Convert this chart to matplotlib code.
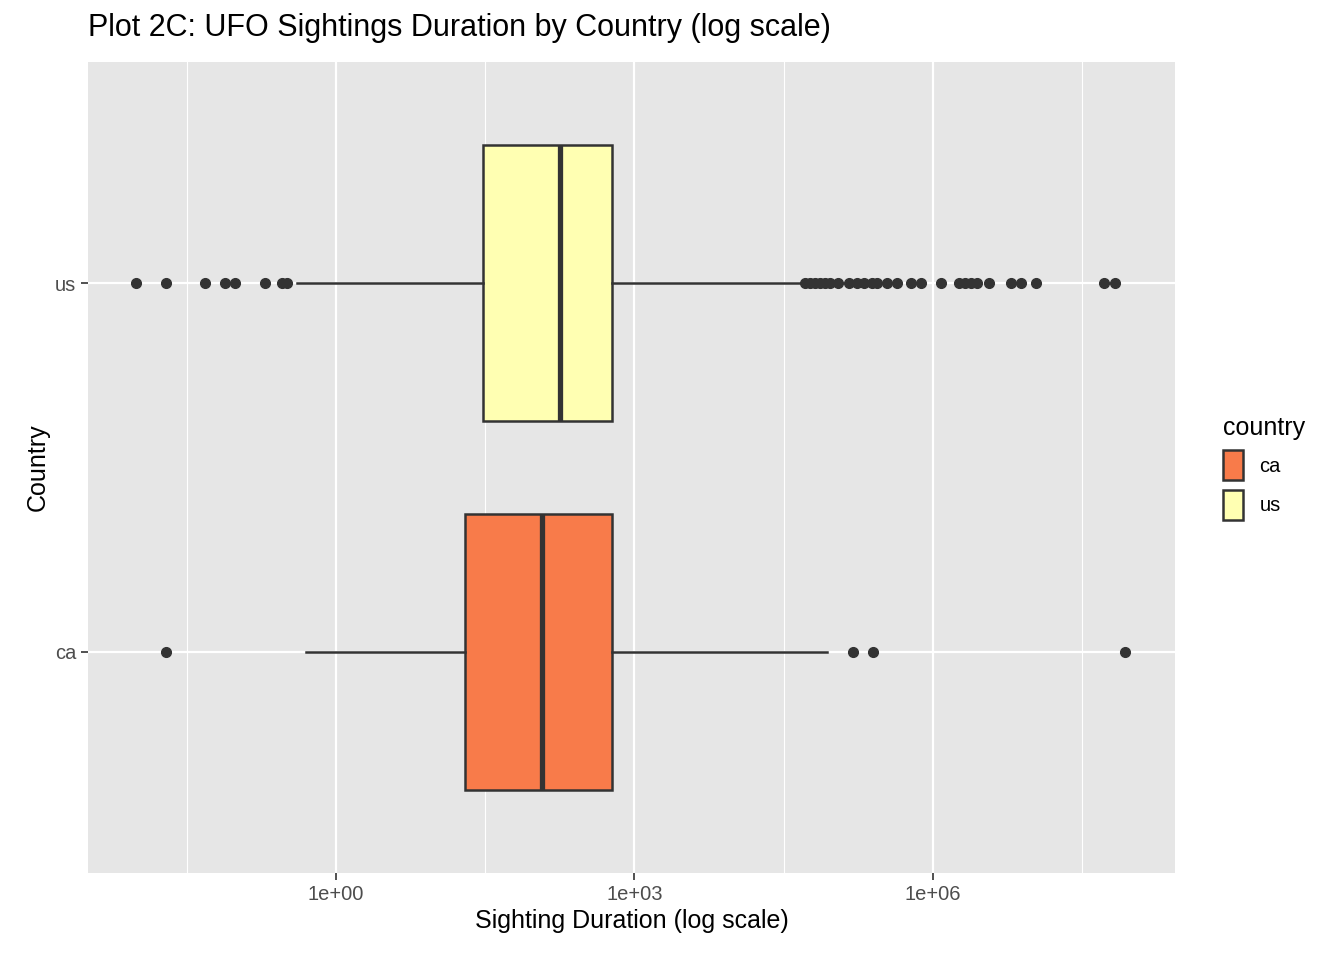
import matplotlib.pyplot as plt
import matplotlib.patches as mpatches
import numpy as np

plt.rcParams['font.family'] = ['Liberation Sans', 'DejaVu Sans']

countries = ['ca', 'us']
colors = ['#F87B4A', '#FFFFB2']
# log10 values
whislo = [-0.30, -0.39]
q1 = [1.30, 1.48]
med = [2.07, 2.25]
q3 = [2.77, 2.77]
whishi = [4.93, 4.69]
fliers = [
    [-1.71, 5.20, 5.40, 7.93],
    [-2.01, -1.71, -1.31, -1.11, -1.01, -0.71, -0.54, -0.49,
     4.71, 4.76, 4.81, 4.86, 4.91, 4.96, 5.04, 5.16, 5.24, 5.31, 5.39, 5.44,
     5.54, 5.64, 5.78, 5.88, 6.08, 6.26, 6.32, 6.38, 6.44, 6.56, 6.78, 6.88,
     7.03, 7.72, 7.83],
]

fig = plt.figure(figsize=(13.44, 9.6), dpi=100)
ax = fig.add_axes([88/1344, 1-873/960, (1175-88)/1344, (873-62)/960])
ax.set_facecolor('#E6E6E6')

stats = []
for i in range(2):
    stats.append(dict(whislo=10**whislo[i], q1=10**q1[i], med=10**med[i],
                      q3=10**q3[i], whishi=10**whishi[i],
                      fliers=10**np.array(fliers[i])))
bp = ax.bxp(stats, positions=[1, 2], vert=False, widths=0.75, patch_artist=True,
            showcaps=False,
            boxprops=dict(edgecolor='#333333', linewidth=1.8),
            medianprops=dict(color='#333333', linewidth=3.8),
            whiskerprops=dict(color='#333333', linewidth=1.8),
            flierprops=dict(marker='o', markerfacecolor='#333333',
                            markeredgecolor='#333333', markersize=7))
for p, c in zip(bp['boxes'], colors):
    p.set_facecolor(c)
    p.set_zorder(3)
for k in ['medians', 'whiskers', 'fliers']:
    for a in bp[k]:
        a.set_zorder(3)

ax.set_xscale('log')
ax.set_xlim(10**-2.49, 10**8.43)
ax.set_ylim(0.4, 2.6)
ax.set_xticks([1, 1e3, 1e6])
ax.set_xticklabels(['1e+00', '1e+03', '1e+06'])
ax.minorticks_off()
ax.set_yticks([1, 2])
ax.set_yticklabels(countries)
for v in [-1.5, 1.5, 4.5, 7.5]:
    ax.axvline(10**v, color='white', lw=0.8, zorder=1)
for v in [0, 3, 6]:
    ax.axvline(10**v, color='white', lw=1.6, zorder=1)
for v in [1, 2]:
    ax.axhline(v, color='white', lw=1.6, zorder=1)
for s in ax.spines.values():
    s.set_visible(False)
ax.tick_params(colors='#333333', labelsize=14.5, length=5, width=1.2,
               labelcolor='#4D4D4D')

ax.set_xlabel('Sighting Duration (log scale)', fontsize=18)
ax.set_ylabel('Country', fontsize=18)
fig.text(88/1344, 1-28/960, 'Plot 2C: UFO Sightings Duration by Country (log scale)',
         fontsize=22, va='center')

handles = [mpatches.Patch(facecolor=c, edgecolor='#333333', linewidth=1.8) for c in colors]
leg = fig.legend(handles, countries, title='country', loc='upper left',
                 bbox_to_anchor=(1205/1344, 1-398/960), frameon=False,
                 fontsize=14.5, title_fontsize=18, handlelength=1.0, handleheight=1.9,
                 alignment='left')
fig.savefig('out.png', dpi=100)
